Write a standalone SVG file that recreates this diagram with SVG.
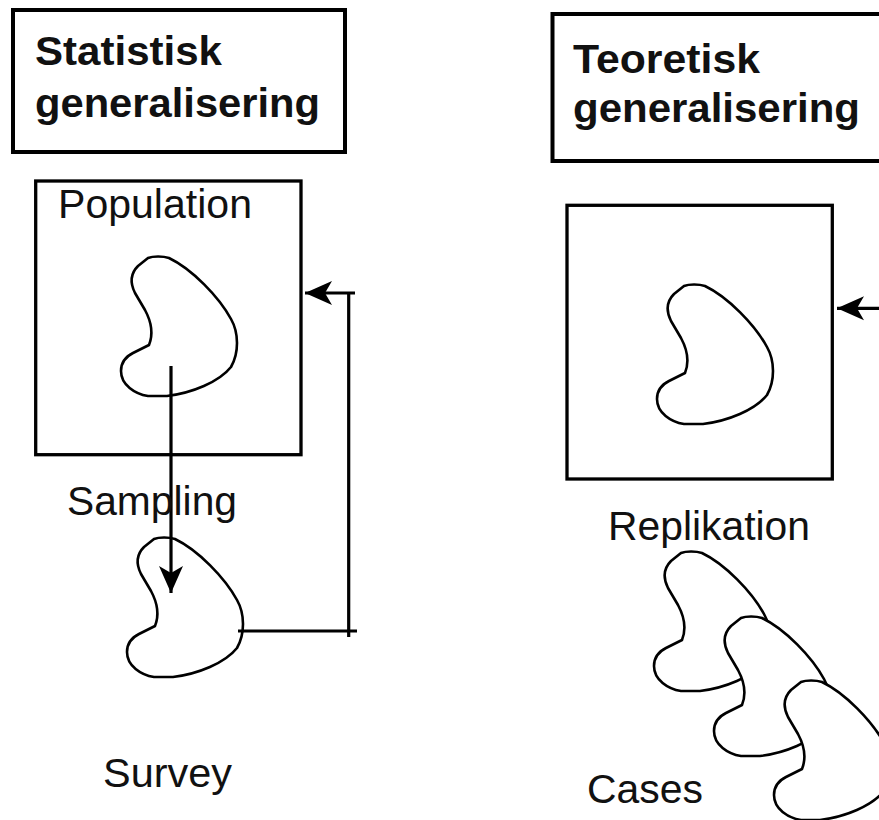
<svg xmlns="http://www.w3.org/2000/svg" xmlns:xlink="http://www.w3.org/1999/xlink" width="879" height="820" viewBox="0 0 879 820">
  <style>
    .box { fill: #fff; stroke: #000; stroke-width: 3.3; }
    .tbox { fill: #fff; stroke: #000; stroke-width: 4; }
    .blob { fill: #fff; stroke: #000; stroke-width: 2.6; stroke-linejoin: round; }
    .title { font-family: "Liberation Sans", Arial, Helvetica, sans-serif; font-weight: bold; font-size: 41px; fill: #111; }
    .lbl { font-family: "Liberation Sans", Arial, Helvetica, sans-serif; font-size: 41px; fill: #111; }
    .conn { fill: none; stroke: #000; stroke-width: 3.2; }
  </style>
  <defs>
    <path id="blob" d="M -9,1 C -4,-1 6,-1 12,1 C 35,12 62,40 74,62 C 82,76 82,96 74,110 C 62,125 35,136 10,139 L -9,139 C -22,137 -36,128 -36,114 C -36,104 -30,99 -24,96 L -8,88 C -4,78 -5,66 -12,53 L -22,36 C -27,26 -27,17 -19,9 Z"/>
    <marker id="ah" viewBox="-30 -15 32 30" refX="0" refY="0" markerWidth="32" markerHeight="30" markerUnits="userSpaceOnUse" orient="auto">
      <path d="M0,0 L-27,-12 L-20,0 L-27,12 Z" fill="#000"/>
    </marker>
  </defs>
  <rect width="879" height="820" fill="#fff"/>

  <g id="title-statistisk">
    <rect class="tbox" x="13" y="10" width="332" height="142"/>
    <text class="title" x="35" y="65" textLength="187" lengthAdjust="spacingAndGlyphs">Statistisk</text>
    <text class="title" x="35" y="117" textLength="285" lengthAdjust="spacingAndGlyphs">generalisering</text>
  </g>

  <g id="population-left">
    <rect class="box" x="35.7" y="181" width="265.3" height="273.7"/>
    <text class="lbl" x="58" y="218" textLength="194" lengthAdjust="spacingAndGlyphs">Population</text>
    <use xlink:href="#blob" href="#blob" class="blob" transform="translate(157,257)"/>
  </g>

  <g id="survey">
    <use xlink:href="#blob" href="#blob" class="blob" transform="translate(163,538)"/>
    <text class="lbl" x="103" y="787" textLength="129" lengthAdjust="spacingAndGlyphs">Survey</text>
  </g>

  <g id="title-teoretisk">
    <rect class="tbox" x="552.5" y="14" width="340" height="147"/>
    <text class="title" x="573" y="73" textLength="187" lengthAdjust="spacingAndGlyphs">Teoretisk</text>
    <text class="title" x="573" y="122" textLength="287" lengthAdjust="spacingAndGlyphs">generalisering</text>
  </g>

  <g id="population-right">
    <rect class="box" x="567" y="205.3" width="265.3" height="273.7"/>
    <use xlink:href="#blob" href="#blob" class="blob" transform="translate(693,285)"/>
  </g>

  <g id="replikation">
    <text class="lbl" x="608" y="540" textLength="202" lengthAdjust="spacingAndGlyphs">Replikation</text>
  </g>

  <g id="cases">
    <use xlink:href="#blob" href="#blob" class="blob" transform="translate(690,552)"/>
    <use xlink:href="#blob" href="#blob" class="blob" transform="translate(750,617)"/>
    <use xlink:href="#blob" href="#blob" class="blob" transform="translate(810,681)"/>
    <text class="lbl" x="587" y="803" textLength="116" lengthAdjust="spacingAndGlyphs">Cases</text>
  </g>

  <g id="connectors">
    <g id="sampling">
      <line class="conn" x1="171" y1="366" x2="171" y2="593" marker-end="url(#ah)"/>
      <text class="lbl" x="67" y="515" textLength="170" lengthAdjust="spacingAndGlyphs">Sampling</text>
    </g>
    <g id="feedback-left">
      <line class="conn" x1="238" y1="631" x2="357" y2="631"/>
      <line class="conn" x1="348.7" y1="637" x2="348.7" y2="293"/>
      <line class="conn" x1="355" y1="293" x2="305" y2="293" marker-end="url(#ah)"/>
    </g>
    <g id="feedback-right">
      <line class="conn" x1="880" y1="308.3" x2="837" y2="308.3" marker-end="url(#ah)"/>
    </g>
  </g>
</svg>
